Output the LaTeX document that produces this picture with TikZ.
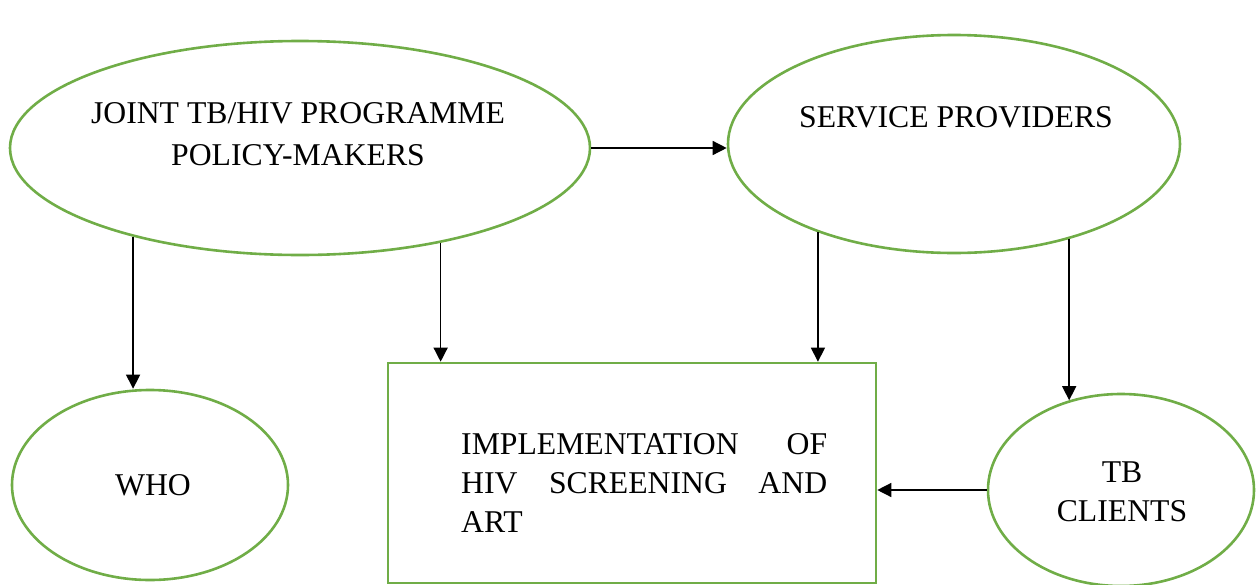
\documentclass[tikz,border=0pt]{standalone}
\usepackage{fontspec}
\setmainfont{Liberation Serif}
\usetikzlibrary{shapes.geometric,arrows.meta}
\definecolor{leaf}{HTML}{70AD47}
\tikzstyle{bigfont} = [font=\fontsize{31.7}{39}\selectfont]
\tikzstyle{oval} = [ellipse, draw=leaf, line width=2.6pt, inner sep=0pt]
\tikzstyle{plain} = [bigfont, align=center, inner sep=0pt]
\tikzstyle{link} = [-{Triangle[length=14pt,width=14pt]}, line width=1.4pt]
\hyphenpenalty=10000
\tolerance=10000

\begin{document}
\begin{tikzpicture}[x=1pt,y=-1pt]
  \useasboundingbox (0,0) rectangle (1259,584);
  \node [oval, minimum width=580pt, minimum height=214pt](joint) at (300,148) {};
  \node [oval, minimum width=452pt, minimum height=218pt](prov) at (954,144) {};
  \node [oval, minimum width=276pt, minimum height=190pt](who) at (150,485) {};
  \node [oval, minimum width=266pt, minimum height=192pt](clients) at (1121,490) {};
  \node [draw=leaf, line width=2.6pt, minimum width=488pt, minimum height=220pt, inner sep=0pt](impl) at (632,473) {};

  \node [plain, font=\fontsize{31.7}{42}\selectfont](jointtxt) at (298,134) {JOINT TB/HIV PROGRAMME\\POLICY-MAKERS};
  \node [plain](provtxt) at (956,117.5) {SERVICE PROVIDERS};
  \node [plain](whotxt) at (153,485) {WHO};
  \node [plain](clienttxt) at (1122,492) {TB\\CLIENTS};
  \node [bigfont, text width=366pt, align=justify, inner sep=0pt, anchor=north west](impltxt) at (461,433) {IMPLEMENTATION OF HIV SCREENING AND ART};

  \draw [link] (joint.east) -- (joint.east -| prov.west);
  \draw [link] (joint.208) -- (joint.208 |- who.north);
  \draw [link] (joint.326) -- (joint.326 |- impl.north);
  \draw [link] (prov.213) -- (prov.213 |- impl.north);
  \draw [link] (clients.120 |- prov.321) -- (clients.120);
  \draw [link] (clients.west) -- (clients.west -| impl.east);
\end{tikzpicture}
\end{document}
